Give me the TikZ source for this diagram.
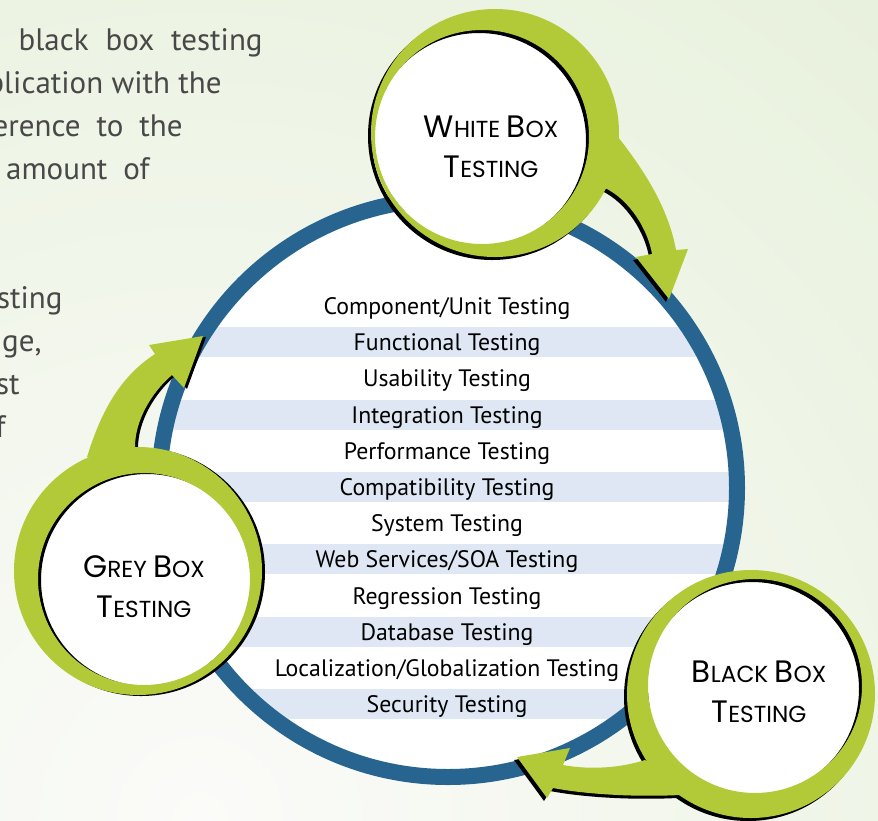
\documentclass[tikz,border=0pt]{standalone}
\usepackage{fontspec}
\setmainfont{PT Sans}
\newfontfamily\badgefont{Poppins}
\usetikzlibrary{positioning}

\definecolor{leaf}{RGB}{179,202,56}
\definecolor{ringblue}{RGB}{39,101,144}
\definecolor{stripeblue}{RGB}{224,231,244}
\definecolor{bggreen}{RGB}{226,238,212}
\definecolor{bgpale}{RGB}{251,251,249}
\definecolor{paragray}{RGB}{72,72,72}

% big first letter of the small caps labels
\newcommand{\Ini}[1]{{\fontsize{15.5}{20}\selectfont #1}}

% badge outlines: ring (outer circle, hole) and the arrow leaving it
\newcommand{\whitering}{(495,133) circle (124) (482,137) circle (107)}
\newcommand{\whitearrow}{(618,137) .. controls (640,165) and (668,205) .. (676,250)
  -- (688,249) -- (669,299) -- (636,257) -- (652,254)
  .. controls (648,230) and (630,200) .. (605,188) -- (600,160) -- (610,125) -- cycle}
\newcommand{\greyring}{(138,571) circle (124) (144,579) circle (106)}
\newcommand{\greyarrow}{(87,457) .. controls (100,415) and (118,378) .. (155,354)
  -- (149,345) -- (203,336) -- (184,388) -- (172,375)
  .. controls (152,392) and (135,420) .. (135,447) -- (110,460) -- cycle}
\newcommand{\blackring}{(751,694) circle (124) (755,686) circle (107)}
\newcommand{\blackarrow}{(645,760) .. controls (620,768) and (590,770) .. (563,765)
  -- (570,748) -- (517,757) -- (547,798) -- (553,788)
  .. controls (590,795) and (640,797) .. (680,795) -- (670,775) -- cycle}

\tikzset{
  % list of testing kinds inside the big circle
  item/.style={anchor=base, inner sep=0pt, font=\fontsize{11.9}{14}\selectfont},
  band/.style={fill=stripeblue},
  % white disk and caption of a badge
  disk/.style={circle, fill=white, inner sep=0pt, minimum size=#1},
  badgetext/.style={align=center, inner sep=0pt, font=\badgefont\fontsize{11.6}{20}\selectfont},
  leafring/.style={fill=leaf, even odd rule},
  % cut off paragraph behind the diagram
  para/.style={anchor=base east, inner sep=0pt, text=paragray, font=\fontsize{15.5}{21}\selectfont},
}

\begin{document}
\begin{tikzpicture}[x=0.5pt, y=-0.5pt]
  \useasboundingbox (0,0) rectangle (878,820);
  \clip (0,0) rectangle (878,820);

  % background
  \fill[bggreen] (0,0) rectangle (878,820);
  \shade[inner color=bgpale, outer color=bggreen] (200,820) circle (1400);

  % text behind the diagram
  \node[para] (p1) at (263,50) {black\hskip 8.5pt box\hskip 8.5pt testing};
  \node[para] (p2) at (222,93) {plication with the};
  \node[para] (p3) at (183,136) {erence\hskip 8pt to\hskip 8pt the};
  \node[para] (p4) at (150,179) {amount\hskip 8pt of};
  \node[para] (p5) at (63,308) {sting};
  \node[para] (p6) at (42,351) {ge,};
  \node[para] (p7) at (20,394) {st};
  \node[para] (p8) at (6,437) {f};

  % big circle with the kinds of testing
  \coordinate (core) at (448,488);
  \fill[white] (core) circle (289);
  \begin{scope}
    \clip (core) circle (289);
    \foreach \i in {1,3,...,11}
      \fill[band] (140,{291+36.2*\i}) rectangle (760,{321+36.2*\i});
  \end{scope}
  \draw[ringblue, line width=8pt] (core) circle (289);
  \foreach \kind [count=\i from 0] in {Component/Unit Testing, Functional Testing,
      Usability Testing, Integration Testing, Performance Testing,
      Compatibility Testing, System Testing, Web Services/SOA Testing,
      Regression Testing, Database Testing, Localization/Globalization Testing,
      Security Testing}
    \node[item] (kind\i) at (447,{314.5+36.2*\i}) {\kind};

  % white box
  \node[disk=107pt] (wbox) at (482,137) {};
  \node[badgetext] (wlabel) at (491,147) {\Ini{W}HITE \Ini{B}OX\\\Ini{T}ESTING};
  \begin{scope}[shift={(-3,3)}]
    \fill[even odd rule] \whitering;
    \fill \whitearrow;
  \end{scope}
  \fill[leafring] \whitering;
  \fill[leaf] \whitearrow;

  % grey box
  \node[disk=106pt] (gbox) at (144,579) {};
  \node[badgetext] (glabel) at (144,587) {\Ini{G}REY \Ini{B}OX\\\Ini{T}ESTING};
  \begin{scope}[shift={(3,1)}]
    \fill[even odd rule] \greyring;
    \fill \greyarrow;
  \end{scope}
  \fill[leafring] \greyring;
  \fill[leaf] \greyarrow;

  % black box
  \node[disk=107pt] (bbox) at (755,686) {};
  \node[badgetext] (blabel) at (759,692) {\Ini{B}LACK \Ini{B}OX\\\Ini{T}ESTING};
  \begin{scope}[shift={(-3,3)}]
    \fill[even odd rule] \blackring;
    \fill \blackarrow;
  \end{scope}
  \fill[leafring] \blackring;
  \fill[leaf] \blackarrow;
\end{tikzpicture}
\end{document}
